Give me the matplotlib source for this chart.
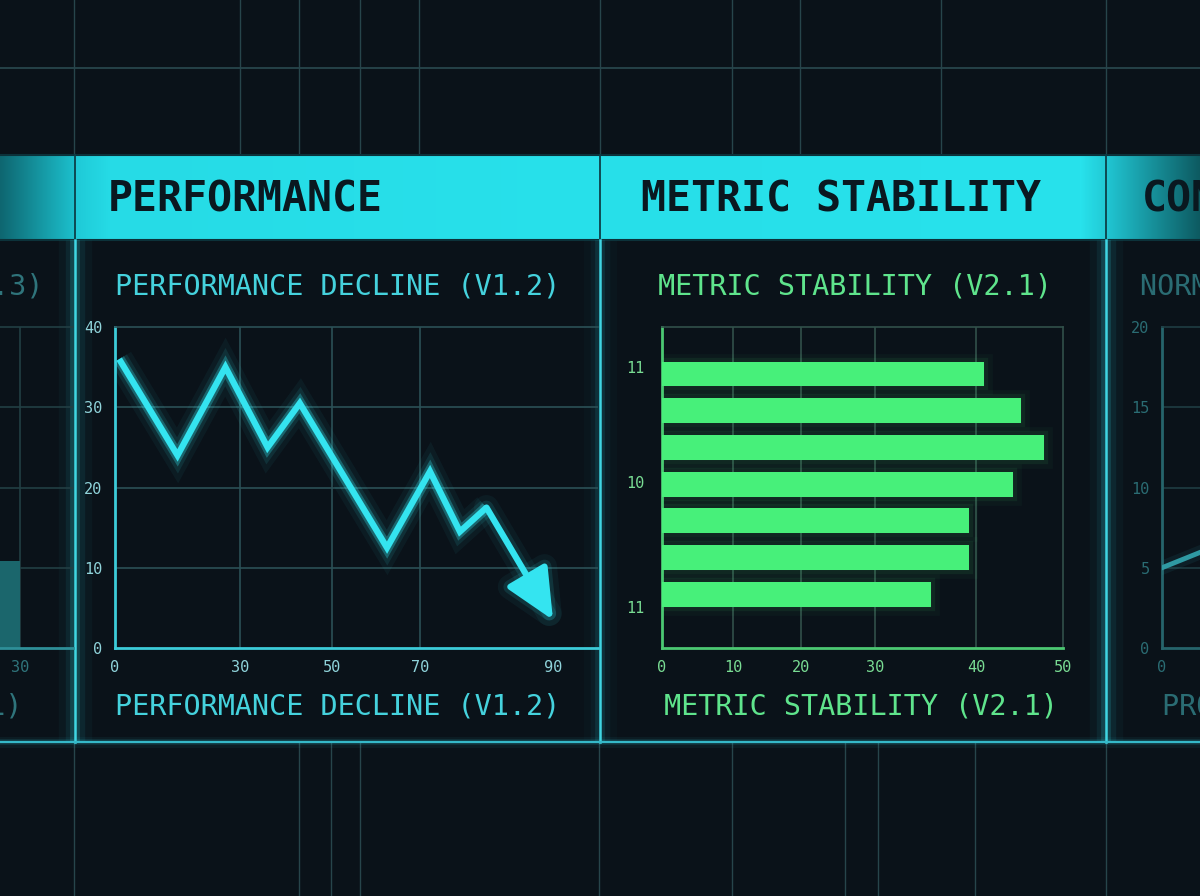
import numpy as np
import matplotlib
matplotlib.use("Agg")
import matplotlib.pyplot as plt
import matplotlib.patheffects as pe
from matplotlib.colors import to_rgb

# ---- data ----
perf_x = [1, 15, 26.5, 36, 43, 62.5, 71.5, 76, 80, 90]
perf_y = [36, 24, 35, 25, 30.5, 12.5, 22, 14.5, 17.5, 3.5]
perf_xticks = [0, 30, 50, 70, 90]
perf_yticks = [0, 10, 20, 30, 40]

stab_values = [40.9, 45.2, 47.8, 44.3, 39.3, 39.3, 35.5]
stab_xticks = [0, 10, 20, 30, 40, 50]
stab_ylabels = ["11", "10", "11"]

left_x = [30]
left_h = [10.8]

norm_x = [0, 10, 20, 30]
norm_y = [5.0, 6.1, 7.0, 7.8]
norm_yticks = [0, 5, 10, 15, 20]

headers = ["PERFORMANCE", "METRIC STABILITY", "CONSISTENCY"]
perf_title = "PERFORMANCE DECLINE (V1.2)"
stab_title = "METRIC STABILITY (V2.1)"

# ---- layout (pixels) ----
W, H = 1200, 896
PERF_TICK_PX = [115, 240, 332, 420, 553]          # uneven label spacing in the picture
STAB_TICK_PX = [662, 733, 801, 875, 976, 1063]
STAB_YTICK_POS = [-0.2, 2.95, 6.35]

BG = "#0a1219"
CYAN = "#34e4f0"
GREEN = "#47f07a"
GRID = "#27454b"
DIM = "#2f747b"

plt.rcParams["font.family"] = ["DejaVu Sans Mono", "DejaVu Sans"]


def rect(x0, y0, x1, y1):
    return [x0 / W, 1 - y1 / H, (x1 - x0) / W, (y1 - y0) / H]


def piecewise(vals, pos):
    v = np.asarray(vals, float)
    p = np.asarray(pos, float)

    def conv(a, src, dst):
        a = np.asarray(a, float)
        out = np.interp(a, src, dst)
        lo = (dst[1] - dst[0]) / (src[1] - src[0])
        hi = (dst[-1] - dst[-2]) / (src[-1] - src[-2])
        out = np.where(a < src[0], dst[0] + (a - src[0]) * lo, out)
        out = np.where(a > src[-1], dst[-1] + (a - src[-1]) * hi, out)
        return out

    return (lambda a: conv(a, v, p)), (lambda a: conv(a, p, v))


def glow(c, widths=(20, 13, 8), alphas=(0.05, 0.1, 0.3)):
    fx = [pe.Stroke(linewidth=w, foreground=c, alpha=a) for w, a in zip(widths, alphas)]
    return fx + [pe.Normal()]


fig = plt.figure(figsize=(W / 100, H / 100), dpi=100, facecolor=BG)

# ---- background layer ----
bg = fig.add_axes([0, 0, 1, 1], zorder=0)
bg.set_facecolor(BG)

# header band with gradient
stops = [(0, "#0e6670"), (74, "#1cc0cd"), (76, "#1fcad7"), (110, "#26dbe6"),
         (598, "#28e1eb"), (602, "#27dfe9"), (1080, "#28e2ec"), (1104, "#22cad6"),
         (1108, "#20c4d1"), (1200, "#0d5960")]
xs = np.arange(W)
sx = [s[0] for s in stops]
rgb = np.array([to_rgb(s[1]) for s in stops])
grad = np.stack([np.interp(xs, sx, rgb[:, k]) for k in range(3)], axis=-1)[None, :, :]
bg.imshow(grad, extent=[0, W, 240, 155], aspect="auto", zorder=1)

# faint background grid
for x in [74, 240, 299, 360, 419, 600, 732, 800, 941, 1106]:
    bg.plot([x, x], [0, 155], color=GRID, lw=1, zorder=0.5)
bg.plot([0, W], [68, 68], color=GRID, lw=1.3, zorder=0.5)
for x in [74, 299, 331, 360, 599, 732, 845, 878, 975, 1106]:
    bg.plot([x, x], [742, H], color=GRID, lw=1, zorder=0.5)

# header edges and dividers
bg.plot([0, W], [155, 155], color="#0c323a", lw=1.5, zorder=2)
bg.plot([0, W], [240, 240], color="#0c323a", lw=1.5, zorder=2)
for x in [75, 600, 1106]:
    bg.plot([x, x], [155, 240], color="#0d3f48", lw=1.3, zorder=2)

# glowing panel borders
for x, g in [(75, 1.0), (600, 0.6), (1106, 1.0)]:
    for lw, a in [(24, 0.04), (14, 0.08), (7, 0.18)]:
        bg.plot([x, x], [240, 742], color="#2fd0e0", lw=lw, alpha=a * g,
                solid_capstyle="butt", zorder=2)
    bg.plot([x, x], [240, 742], color="#3fd6e3", lw=1.8, zorder=3)
for lw, a in [(8, 0.06), (4, 0.15)]:
    bg.plot([0, W], [742, 742], color="#2fc0d0", lw=lw, alpha=a, zorder=2)
bg.plot([0, W], [742, 742], color="#35b8c8", lw=1.6, zorder=3)

# header labels
hdr_kw = dict(fontsize=30, fontweight="bold", color="#0a1820", va="center", zorder=4)
bg.text(108, 199, headers[0], **hdr_kw)
bg.text(641, 199, headers[1], **hdr_kw)
bg.text(1142, 199, headers[2], **hdr_kw)

# panel titles (top and bottom)
bg.text(338, 286, perf_title, fontsize=20.5, color="#45d2dd", ha="center", va="center", zorder=4)
bg.text(338, 707, perf_title, fontsize=20.5, color="#45d2dd", ha="center", va="center", zorder=4)
bg.text(855, 286, stab_title, fontsize=20.5, color="#5fe48c", ha="center", va="center", zorder=4)
bg.text(861, 707, stab_title, fontsize=20.5, color="#5fe48c", ha="center", va="center", zorder=4)
bg.text(43, 286, "LOAD BALANCE (V1.3)", fontsize=20.5, color=DIM, ha="right", va="center", zorder=4)
bg.text(22, 707, "LOAD BALANCE (V1.1)", fontsize=20.5, color=DIM, ha="right", va="center", zorder=4)
bg.text(1140, 286, "NORMALIZED RATE (V3.0)", fontsize=20.5, color="#2a6c73", ha="left", va="center", zorder=4)
bg.text(1162, 707, "PROCESS NORMAL (V3.0)", fontsize=20.5, color="#2a6c73", ha="left", va="center", zorder=4)

bg.set_xlim(0, W)
bg.set_ylim(H, 0)
bg.axis("off")


def style_axes(ax, main, dim, tickcolor):
    ax.set_facecolor("none")
    for s in ["left", "bottom"]:
        ax.spines[s].set_color(main)
        ax.spines[s].set_linewidth(2)
    for s in ["top", "right"]:
        ax.spines[s].set_color(dim)
        ax.spines[s].set_linewidth(1.2)
    ax.tick_params(length=0, labelsize=11, labelcolor=tickcolor)
    ax.tick_params(axis="x", pad=9)
    ax.tick_params(axis="y", pad=9)


# ---- performance decline (line) ----
ax1 = fig.add_axes(rect(115, 327, 598, 648), zorder=2)
fwd, inv = piecewise(perf_xticks, PERF_TICK_PX)
ax1.set_xscale("function", functions=(fwd, inv))
ax1.set_xlim(0, float(inv(598)))
ax1.set_ylim(0, 40)
ax1.set_xticks(perf_xticks)
ax1.set_yticks(perf_yticks)
style_axes(ax1, "#3ccbd8", "#2b5056", "#8fd3da")
ax1.spines["right"].set_visible(False)
for v in perf_yticks[1:-1]:
    ax1.axhline(v, color="#2b5056", lw=1.2, zorder=0)
for v in perf_xticks[1:-1]:
    ax1.axvline(v, color="#2b5056", lw=1.2, zorder=0)
ax1.plot(perf_x[:-1], perf_y[:-1], color=CYAN, lw=4.5, solid_joinstyle="miter",
         solid_capstyle="butt", path_effects=glow(CYAN), zorder=3)
ax1.annotate("", xy=(perf_x[-1], perf_y[-1]), xytext=(perf_x[-2], perf_y[-2]),
             arrowprops=dict(arrowstyle="-|>,head_length=1.4,head_width=0.65",
                             color=CYAN, lw=4.5, mutation_scale=22,
                             shrinkA=0, shrinkB=0,
                             path_effects=glow(CYAN, (18, 10), (0.05, 0.12))),
             zorder=3)

# ---- metric stability (horizontal bars) ----
ax2 = fig.add_axes(rect(662, 327, 1063, 648), zorder=2)
fwd2, inv2 = piecewise(stab_xticks, STAB_TICK_PX)
ax2.set_xscale("function", functions=(fwd2, inv2))
ax2.set_xlim(0, 50)
pos = np.arange(len(stab_values))
ax2.barh(pos, stab_values, height=0.68, color=GREEN, zorder=3,
         path_effects=glow(GREEN, (12, 6), (0.035, 0.07)))
ax2.set_ylim(7.46, -1.28)
ax2.set_xticks(stab_xticks)
ax2.set_yticks(STAB_YTICK_POS)
ax2.set_yticklabels(stab_ylabels)
style_axes(ax2, "#4cc872", "#31504a", "#79dc93")
ax2.tick_params(axis="y", pad=13)
for v in stab_xticks[1:-1]:
    ax2.axvline(v, color="#31504a", lw=1.2, zorder=0)

# ---- clipped panel on the left ----
ax0 = fig.add_axes(rect(0, 327, 73, 648), zorder=2)
ax0.set_xlim(25, 43.25)
ax0.set_ylim(0, 40)
ax0.bar(left_x, left_h, width=-8, align="edge", color="#1b666c", zorder=2)
style_axes(ax0, "#2e8f98", "#223f44", DIM)
ax0.spines["left"].set_visible(False)
ax0.spines["right"].set_visible(False)
ax0.set_xticks(left_x)
ax0.set_yticks([])
for v in [10, 20, 30]:
    ax0.axhline(v, color="#223f44", lw=1.2, zorder=0)
ax0.axvline(left_x[0], color="#223f44", lw=1.2, zorder=0)

# ---- clipped panel on the right ----
ax3 = fig.add_axes(rect(1162, 327, 1600, 648), zorder=2)
ax3.set_xlim(0, 100)
ax3.set_ylim(0, 20)
ax3.plot(norm_x, norm_y, color="#2f9aa3", lw=3.5, zorder=3,
         path_effects=glow("#2f9aa3", (10,), (0.1,)))
style_axes(ax3, "#26646b", "#1f3d42", "#2a6c73")
ax3.set_xticks([0])
ax3.set_yticks(norm_yticks)
for v in norm_yticks[1:-1]:
    ax3.axhline(v, color="#1f3d42", lw=1.2, zorder=0)

fig.savefig("out.png", dpi=100, facecolor=BG)
